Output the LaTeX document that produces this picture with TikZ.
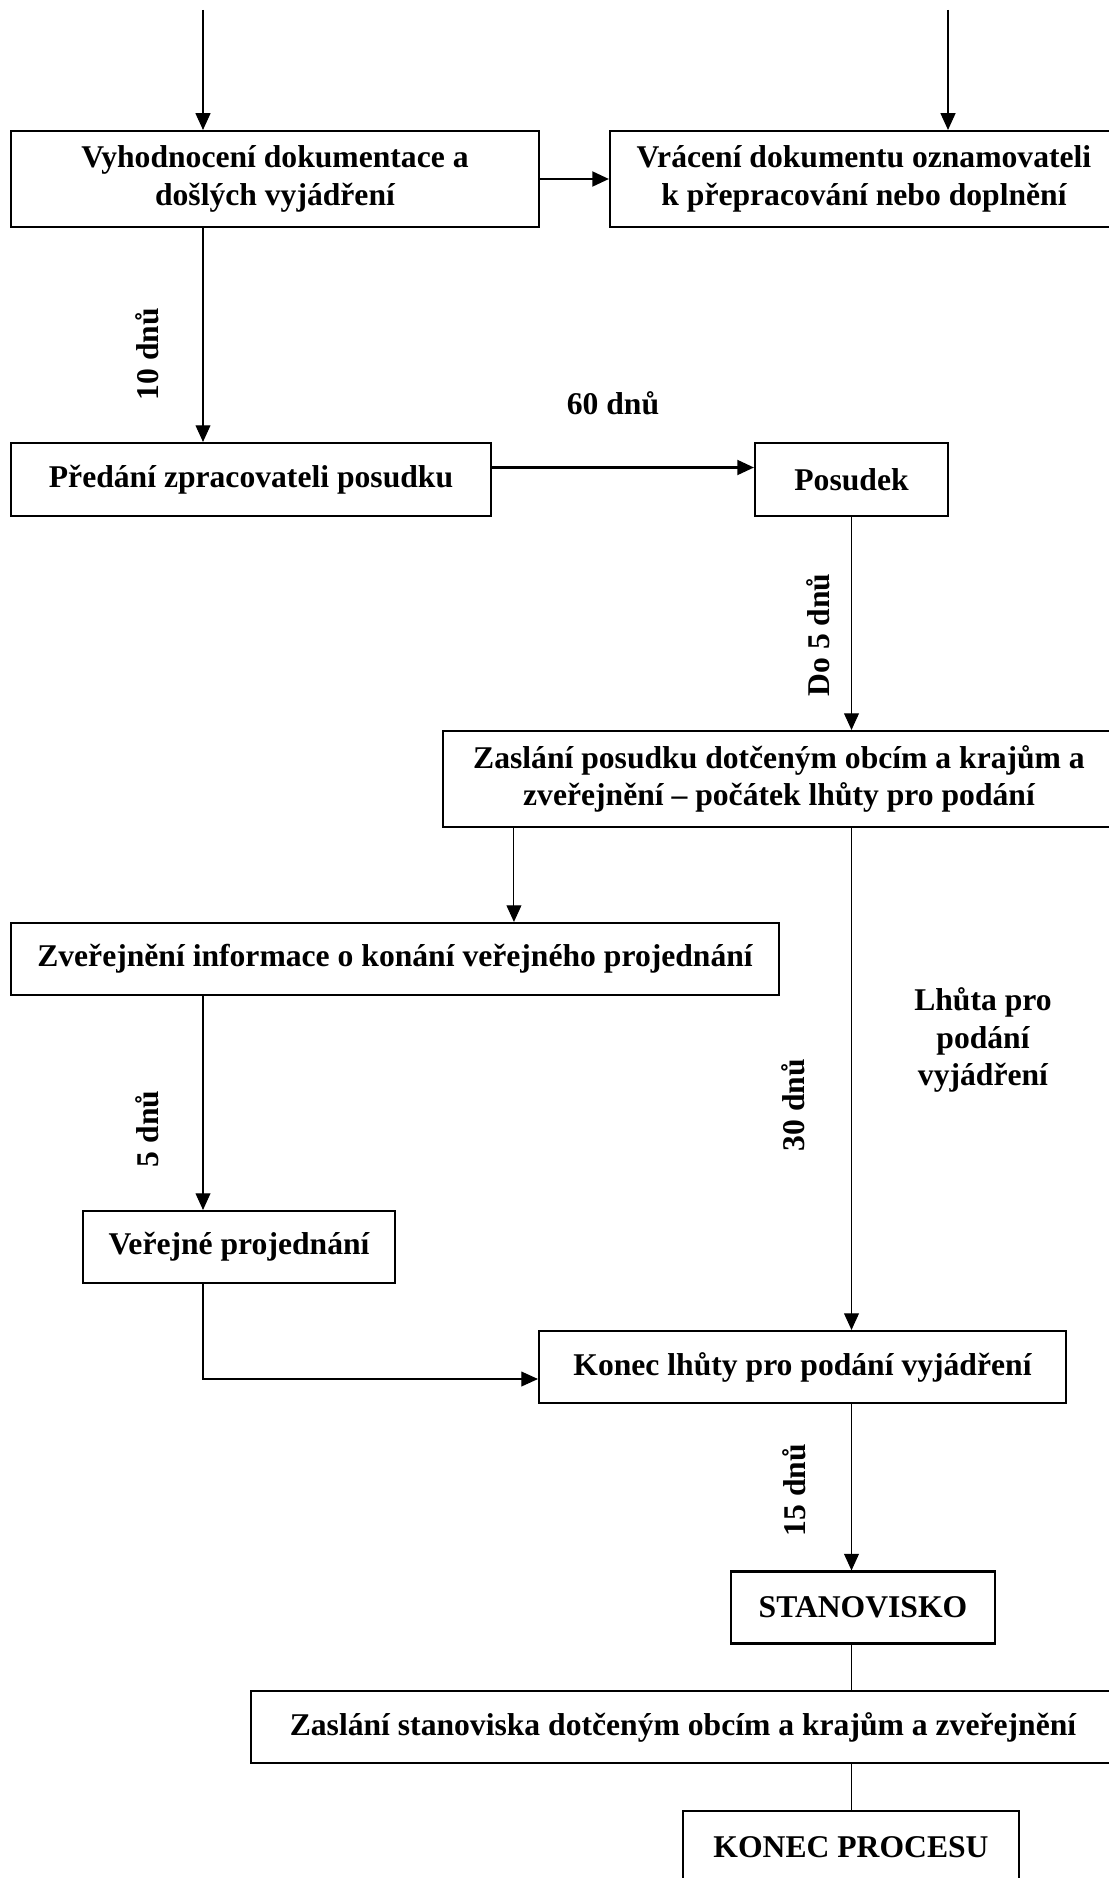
\documentclass[tikz,border=0pt]{standalone}
\usepackage{fontspec}
\setmainfont{Liberation Serif}
\usetikzlibrary{arrows.meta}

\begin{document}
\begin{tikzpicture}[->,>={Triangle[length=9.5pt,width=8.5pt]},line width=0.6pt,
    font=\fontsize{18}{21.3}\selectfont\bfseries]
    \tikzstyle{box}=[draw,line width=1.2pt,align=center,inner sep=0pt]
    \tikzstyle{tall box}=[box,minimum height=1.92cm]
    \tikzstyle{flat box}=[box,minimum height=1.44cm]
    \tikzstyle{side}=[line width=1.3pt]
    \tikzstyle{days}=[rotate=90]

    \useasboundingbox (0,0) rectangle (22.18,-37.56);
    \clip (0,0) rectangle (22.18,-37.56);

    % Incoming flows at the top
    \coordinate (in1) at (4.06,-0.2);
    \coordinate (in2) at (18.96,-0.2);

    % Draw the boxes
    \node[tall box, minimum width=10.56cm] (eval) at (5.50,-3.58) {Vyhodnocení dokumentace a\\došlých vyjádření};
    \node[tall box, minimum width=10.16cm] (ret) at (17.28,-3.58) {Vrácení dokumentu oznamovateli\\k přepracování nebo doplnění};
    \node[box, minimum width=9.6cm, minimum height=1.46cm] (hand) at (5.02,-9.59) {Předání zpracovateli posudku};
    \node[box, minimum width=3.86cm, minimum height=1.46cm] (rev) at (17.03,-9.59) {Posudek};
    \node[tall box, minimum width=13.44cm] (send) at (15.58,-15.58) {Zaslání posudku dotčeným obcím a krajům a\\zveřejnění – počátek lhůty pro podání};
    \node[flat box, minimum width=15.36cm] (pub) at (7.90,-19.18) {Zveřejnění informace o konání veřejného projednání};
    \node[flat box, minimum width=6.24cm] (hear) at (4.78,-24.94) {Veřejné projednání};
    \node[flat box, minimum width=10.54cm] (end) at (16.05,-27.34) {Konec lhůty pro podání vyjádření};
    \node[flat box, minimum width=5.28cm] (opin) at (17.26,-32.15) {STANOVISKO};
    \node[flat box, minimum width=17.28cm] (sendop) at (13.66,-34.54) {Zaslání stanoviska dotčeným obcím a krajům a zveřejnění};
    \node[flat box, minimum width=6.72cm] (fin) at (17.02,-36.94) {KONEC PROCESU};
    \coordinate (split) at ([xshift=1.44cm]send.south west);

    % Connect the boxes
    \path (in1) edge (in1 |- eval.north);
    \path (in2) edge (in2 |- ret.north);
    \path[side] (eval.east) edge (ret.west);
    \path (in1 |- eval.south) edge (in1 |- hand.north);
    \path[side] ([yshift=0.24cm]hand.east) edge ([yshift=0.24cm]rev.west);
    \path (rev.south) edge (rev.south |- send.north);
    \path (split) edge (split |- pub.north);
    \path (rev.south |- send.south) edge (rev.south |- end.north);
    \path (in1 |- pub.south) edge (in1 |- hear.north);
    \draw (in1 |- hear.south) |- ([yshift=-0.24cm]end.west);
    \path (rev.south |- end.south) edge (rev.south |- opin.north);
    \draw[-] (rev.south |- opin.south) -- (rev.south |- sendop.north);
    \draw[-] (rev.south |- sendop.south) -- (rev.south |- fin.north);

    % Annotate the deadlines
    \node[days] (d10) at (2.94,-7.08) {10 dnů};
    \node (d60) at (12.26,-8.06) {60 dnů};
    \node[days] (d5a) at (16.36,-12.7) {Do 5 dnů};
    \node[days] (d30) at (15.86,-22.1) {30 dnů};
    \node[align=center] (term) at (19.66,-20.8) {Lhůta pro\\podání\\vyjádření};
    \node[days] (d5b) at (2.94,-22.58) {5 dnů};
    \node[days] (d15) at (15.88,-29.8) {15 dnů};
\end{tikzpicture}
\end{document}
